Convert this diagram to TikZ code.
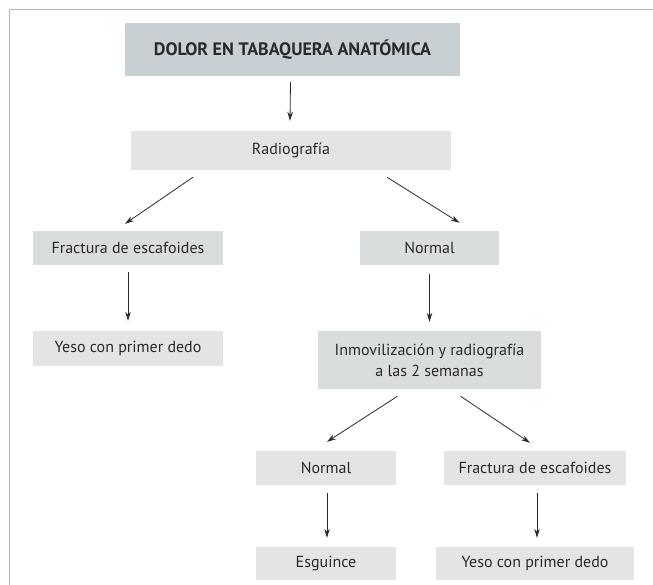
\documentclass[tikz,border=0pt]{standalone}
\usepackage{fontspec}
\setmainfont{PT Sans}
\usetikzlibrary{arrows.meta}
\definecolor{titlefill}{HTML}{C9D0D3}
\definecolor{boxfill}{HTML}{E2E4E5}
\definecolor{boxfillB}{HTML}{DADDDE}
\definecolor{txt}{HTML}{2A2A2A}
\definecolor{framecol}{HTML}{B4B4B4}
\begin{document}
\begin{tikzpicture}[x=1pt,y=-1pt,
  box/.style={fill=boxfill,inner sep=0pt,align=center,text=txt,font=\fontsize{16}{21}\selectfont},
  boxB/.style={box,fill=boxfillB},
  titlebox/.style={box,fill=titlefill,font=\fontsize{18}{22}\selectfont\bfseries},
  arr/.style={draw=txt,line width=0.8pt,-{Stealth[length=9pt,width=5.5pt]}}]
\useasboundingbox (0,0) rectangle (653,585);
\fill[white] (0,0) rectangle (653,585);
\draw[framecol,line width=0.9pt] (9,585) -- (9,9) -- (653,9);
\node[titlebox,minimum width=335pt,minimum height=53pt] (title) at (292.5,49.5) {DOLOR EN TABAQUERA ANATÓMICA};
\node[box,minimum width=320pt,minimum height=39pt] (radio) at (291,150.5) {Radiografía};
\node[boxB,minimum width=190pt,minimum height=34pt] (frac1) at (128,248) {Fractura de escafoides};
\node[boxB,minimum width=139pt,minimum height=34pt] (norm1) at (429.5,248) {Normal};
\node[box,minimum width=190pt,minimum height=35pt] (yeso1) at (128,348.5) {Yeso con primer dedo};
\node[boxB,minimum width=223pt,minimum height=58pt] (inmov) at (429.5,360) {Inmovilización y radiografía\\a las 2 semanas};
\node[box,minimum width=140pt,minimum height=34pt] (norm2) at (326,468) {Normal};
\node[box,minimum width=182pt,minimum height=34pt] (frac2) at (535,468) {Fractura de escafoides};
\node[box,minimum width=140pt,minimum height=33pt] (esg) at (326,563.5) {Esguince};
\node[box,minimum width=198pt,minimum height=33pt] (yeso2) at (535,563.5) {Yeso con primer dedo};
\draw[arr] ([xshift=-2pt,yshift=-6pt]title.south) -- ([xshift=-1pt,yshift=10pt]radio.north);
\draw[arr] ([xshift=-98pt,yshift=-7pt]radio.south) -- ([xshift=-3pt,yshift=7pt]frac1.north);
\draw[arr] ([xshift=96pt,yshift=-7pt]radio.south) -- ([xshift=30pt,yshift=8pt]norm1.north);
\draw[arr] ([yshift=-7pt]frac1.south) -- ([yshift=10pt]yeso1.north);
\draw[arr] ([yshift=-9pt]norm1.south) -- ([yshift=9pt]inmov.north);
\draw[arr] ([xshift=-32pt,yshift=-7pt]inmov.south) -- ([xshift=1pt,yshift=9pt]norm2.north);
\draw[arr] ([xshift=31pt,yshift=-7pt]inmov.south) -- ([xshift=-5pt,yshift=8pt]frac2.north);
\draw[arr] ([xshift=1pt,yshift=-8pt]norm2.south) -- ([xshift=1pt,yshift=9pt]esg.north);
\draw[arr] ([xshift=2pt,yshift=-8pt]frac2.south) -- ([xshift=2pt,yshift=9pt]yeso2.north);
\end{tikzpicture}
\end{document}
